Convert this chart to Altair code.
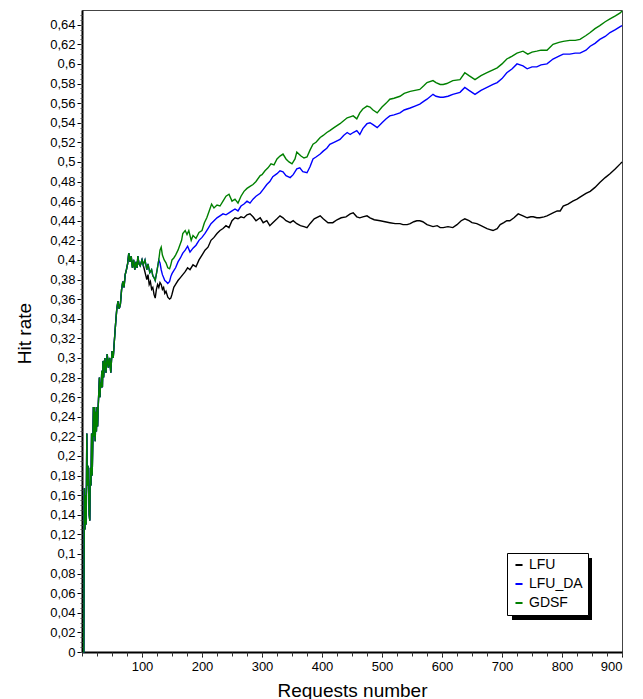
import altair as alt
import pandas as pd

# ---------------- data ----------------
# initial segment shared by all three policies (curves coincide here)
EARLY_X = [2, 3, 4, 5, 6, 7, 8, 9, 10, 12, 13, 14, 15, 16, 17, 18, 19, 20, 21, 22, 23, 24,
           25, 26, 27, 28, 29, 30, 31, 32, 33, 34, 35, 36, 38, 40, 42, 44, 46, 48, 50, 52,
           54, 56, 58, 60, 62, 64, 66, 68, 70, 72, 74, 76, 78, 80, 82, 84, 86, 88, 90, 92,
           93, 95, 97, 100]
EARLY_Y = [0.0, 0.0, 0.167, 0.125, 0.16, 0.13, 0.223, 0.17, 0.19, 0.14, 0.134, 0.188, 0.17,
           0.223, 0.18, 0.215, 0.25, 0.22, 0.25, 0.215, 0.245, 0.225, 0.25, 0.23, 0.25, 0.265,
           0.28, 0.26, 0.275, 0.27, 0.287, 0.27, 0.297, 0.28, 0.3, 0.285, 0.304, 0.29, 0.3,
           0.285, 0.307, 0.3, 0.318, 0.335, 0.35, 0.358, 0.35, 0.355, 0.37, 0.378, 0.372,
           0.385, 0.39, 0.396, 0.407, 0.398, 0.404, 0.392, 0.4, 0.39, 0.398, 0.392, 0.404,
           0.396, 0.394, 0.4]

# segment shared by GDSF and LFU_DA
MID_X = [102, 105, 108, 110, 113, 116, 118, 120, 122, 125, 128]
MID_Y = [0.395, 0.40, 0.39, 0.396, 0.387, 0.39, 0.384, 0.382, 0.379, 0.389, 0.40]

GDSF_X = [130, 132, 134, 137, 140, 143, 146, 148, 150, 153, 156, 160, 163, 166, 168, 172, 175,
          178, 182, 185, 190, 195, 200, 204, 208, 212, 216, 220, 225, 230, 235, 240, 245, 250,
          255, 260, 265, 270, 275, 280, 285, 290, 297, 300, 305, 310, 315, 320, 325, 330, 335,
          340, 345, 350, 355, 358, 365, 370, 375, 380, 385, 390, 397, 402, 408, 413, 420, 430,
          436, 442, 447, 452, 458, 463, 468, 475, 480, 485, 492, 500, 507, 513, 520, 530, 537,
          547, 555, 563, 570, 575, 585, 590, 597, 602, 608, 618, 630, 638, 645, 655, 665, 675,
          685, 692, 700, 708, 717, 725, 735, 743, 750, 758, 765, 775, 785, 795, 802, 813, 822,
          830, 840, 847, 855, 863, 872, 880, 889, 897, 900]
GDSF_Y = [0.41, 0.413, 0.405, 0.40, 0.397, 0.392, 0.391, 0.395, 0.40, 0.402, 0.405, 0.41, 0.415,
          0.42, 0.427, 0.43, 0.426, 0.43, 0.42, 0.425, 0.422, 0.428, 0.43, 0.438, 0.443, 0.45,
          0.457, 0.453, 0.456, 0.455, 0.46, 0.465, 0.467, 0.46, 0.462, 0.458, 0.465, 0.47, 0.473,
          0.475, 0.477, 0.48, 0.486, 0.487, 0.491, 0.494, 0.498, 0.497, 0.503, 0.506, 0.508,
          0.503, 0.5, 0.498, 0.503, 0.51, 0.506, 0.504, 0.505, 0.512, 0.518, 0.52, 0.525, 0.527,
          0.53, 0.532, 0.535, 0.539, 0.542, 0.545, 0.546, 0.547, 0.544, 0.55, 0.554, 0.557,
          0.556, 0.553, 0.55, 0.556, 0.56, 0.564, 0.565, 0.567, 0.57, 0.572, 0.573, 0.574, 0.578,
          0.581, 0.583, 0.581, 0.579, 0.579, 0.58, 0.583, 0.584, 0.591, 0.588, 0.584, 0.588,
          0.591, 0.594, 0.596, 0.6, 0.605, 0.608, 0.611, 0.613, 0.61, 0.612, 0.613, 0.614, 0.614,
          0.62, 0.622, 0.623, 0.624, 0.624, 0.625, 0.629, 0.632, 0.636, 0.639, 0.643, 0.646,
          0.649, 0.652, 0.654]

LFUDA_X = [130, 132, 134, 136, 138, 140, 143, 146, 148, 150, 153, 156, 160, 164, 168, 172, 176,
           180, 185, 190, 195, 200, 205, 210, 215, 220, 225, 230, 235, 240, 245, 250, 255, 260,
           265, 270, 275, 280, 285, 290, 297, 302, 308, 313, 318, 325, 330, 335, 340, 347, 352,
           358, 363, 368, 375, 380, 385, 390, 397, 402, 408, 413, 420, 430, 436, 442, 447, 452,
           458, 463, 468, 475, 480, 485, 492, 500, 507, 513, 520, 530, 537, 547, 555, 563, 570,
           575, 585, 590, 597, 602, 610, 618, 630, 638, 645, 655, 665, 675, 685, 692, 700, 708,
           717, 725, 735, 742, 750, 758, 765, 775, 785, 795, 802, 813, 822, 830, 840, 847, 855,
           863, 872, 880, 889, 897, 900]
LFUDA_Y = [0.397, 0.39, 0.385, 0.382, 0.379, 0.378, 0.376, 0.378, 0.383, 0.386, 0.389, 0.392,
           0.398, 0.402, 0.407, 0.41, 0.414, 0.408, 0.412, 0.415, 0.42, 0.423, 0.427, 0.432,
           0.437, 0.44, 0.443, 0.445, 0.447, 0.446, 0.448, 0.45, 0.452, 0.45, 0.455, 0.457, 0.46,
           0.458, 0.462, 0.465, 0.468, 0.472, 0.477, 0.48, 0.485, 0.488, 0.491, 0.49, 0.486,
           0.484, 0.487, 0.493, 0.494, 0.49, 0.489, 0.495, 0.503, 0.505, 0.508, 0.511, 0.514,
           0.518, 0.52, 0.523, 0.527, 0.53, 0.528, 0.53, 0.532, 0.528, 0.534, 0.539, 0.54, 0.538,
           0.535, 0.54, 0.544, 0.547, 0.548, 0.55, 0.553, 0.555, 0.557, 0.559, 0.562, 0.564,
           0.569, 0.567, 0.566, 0.566, 0.567, 0.569, 0.571, 0.576, 0.573, 0.569, 0.573, 0.576,
           0.579, 0.581, 0.585, 0.591, 0.595, 0.6, 0.598, 0.595, 0.597, 0.597, 0.599, 0.6,
           0.605, 0.608, 0.61, 0.61, 0.611, 0.611, 0.614, 0.618, 0.621, 0.625, 0.628, 0.632,
           0.635, 0.638, 0.639]

LFU_X = [102, 104, 106, 108, 110, 112, 114, 116, 118, 120, 122, 124, 126, 128, 130, 132, 134,
         136, 138, 140, 143, 146, 148, 150, 153, 156, 160, 164, 168, 172, 176, 180, 185, 190,
         195, 200, 205, 210, 215, 220, 225, 230, 235, 240, 245, 250, 255, 260, 265, 270, 275,
         280, 285, 290, 297, 302, 308, 313, 318, 325, 330, 335, 340, 347, 352, 358, 364, 370,
         375, 380, 387, 397, 402, 410, 418, 425, 432, 440, 447, 452, 458, 463, 468, 475, 480,
         487, 497, 505, 513, 522, 530, 535, 542, 547, 553, 558, 563, 568, 575, 585, 592, 597,
         602, 610, 618, 625, 632, 638, 645, 650, 658, 665, 675, 680, 685, 692, 697, 703, 708,
         713, 720, 727, 735, 742, 748, 752, 758, 763, 770, 775, 785, 792, 797, 802, 810, 818,
         825, 830, 840, 847, 855, 863, 872, 880, 889, 897, 900]
LFU_Y = [0.395, 0.39, 0.385, 0.38, 0.385, 0.375, 0.378, 0.37, 0.372, 0.365, 0.361, 0.37, 0.375,
         0.372, 0.377, 0.375, 0.37, 0.372, 0.366, 0.368, 0.362, 0.36, 0.361, 0.365, 0.372,
         0.375, 0.379, 0.382, 0.385, 0.388, 0.392, 0.39, 0.395, 0.393, 0.4, 0.405, 0.41, 0.413,
         0.42, 0.423, 0.427, 0.43, 0.432, 0.435, 0.433, 0.44, 0.443, 0.442, 0.444, 0.443,
         0.446, 0.447, 0.444, 0.44, 0.443, 0.438, 0.44, 0.435, 0.438, 0.442, 0.445, 0.443,
         0.44, 0.438, 0.44, 0.437, 0.435, 0.434, 0.433, 0.437, 0.442, 0.445, 0.442, 0.438,
         0.438, 0.441, 0.443, 0.444, 0.447, 0.448, 0.444, 0.443, 0.444, 0.445, 0.443, 0.441,
         0.44, 0.439, 0.438, 0.437, 0.437, 0.436, 0.436, 0.437, 0.439, 0.44, 0.44, 0.439,
         0.436, 0.434, 0.435, 0.433, 0.433, 0.434, 0.433, 0.436, 0.44, 0.442, 0.44, 0.438,
         0.437, 0.435, 0.432, 0.431, 0.43, 0.432, 0.436, 0.438, 0.44, 0.44, 0.443, 0.447,
         0.445, 0.443, 0.444, 0.444, 0.443, 0.443, 0.444, 0.445, 0.448, 0.45, 0.45, 0.455,
         0.457, 0.46, 0.462, 0.464, 0.468, 0.47, 0.474, 0.479, 0.484, 0.488, 0.493, 0.498, 0.5]

SERIES = ["LFU", "LFU_DA", "GDSF"]
COLORS = ["#000000", "#0000ff", "#008000"]

Y_TICKS = [0.0, 0.02, 0.04, 0.06, 0.08, 0.1, 0.12, 0.14, 0.16, 0.18, 0.2, 0.22, 0.24, 0.26,
           0.28, 0.3, 0.32, 0.34, 0.36, 0.38, 0.4, 0.42, 0.44, 0.46, 0.48, 0.5, 0.52, 0.54,
           0.56, 0.58, 0.6, 0.62, 0.64]
X_TICKS = [100, 200, 300, 400, 500, 600, 700, 800, 900]
Y_MINOR = [round(i * 0.005, 3) for i in range(0, 131)]
X_MINOR = [i * 25 for i in range(0, 37)]

# ---------------- build table ----------------
def frame(name, xs, ys):
    return pd.DataFrame({"Requests": xs, "Hit": ys, "Policy": name})

df = pd.concat([
    frame("LFU", EARLY_X + LFU_X, EARLY_Y + LFU_Y),
    frame("LFU_DA", EARLY_X + MID_X + LFUDA_X, EARLY_Y + MID_Y + LFUDA_Y),
    frame("GDSF", EARLY_X + MID_X + GDSF_X, EARLY_Y + MID_Y + GDSF_Y),
], ignore_index=True)

FONT = "Liberation Sans"
xscale = alt.Scale(domain=[0, 900], nice=False, zero=False)
yscale = alt.Scale(domain=[0, 0.655], nice=False)

legend = alt.Legend(
    title=None, orient="none", legendX=425, legendY=543,
    fillColor="white", strokeColor="black", padding=5, cornerRadius=0,
    symbolType="stroke", symbolStrokeWidth=2, symbolSize=50,
    labelFont=FONT, labelFontSize=14, labelColor="black", rowPadding=5, labelOffset=3,
)
color = alt.Color("Policy:N", scale=alt.Scale(domain=SERIES, range=COLORS), legend=legend)

x_main = alt.Axis(values=X_TICKS, tickSize=5, labelFont=FONT, labelFontSize=13,
                  labelColor="black", labelPadding=3, domainColor="black", domainWidth=2,
                  tickColor="black", grid=False, title="Requests number", titleFont=FONT,
                  titleFontSize=19, titleFontWeight="normal", titleColor="black",
                  titleY=44, titleBaseline="alphabetic", orient="bottom")
y_main = alt.Axis(values=Y_TICKS, tickSize=5, labelFont=FONT, labelFontSize=13,
                  labelColor="black", labelPadding=2, domainColor="black", domainWidth=2,
                  tickColor="black", grid=False,
                  labelExpr="replace(format(datum.value, '.2~f'), '.', ',')",
                  title="Hit rate", titleFont=FONT, titleFontSize=19, titleFontWeight="normal",
                  titleColor="black", titleX=-52, titleY=323, titleBaseline="alphabetic",
                  orient="left")
x_minor = alt.Axis(values=X_MINOR, tickSize=4, labels=False, domain=False, grid=False,
                   tickColor="#333", title=None, orient="bottom")
y_minor = alt.Axis(values=Y_MINOR, tickSize=2, labels=False, domain=False, grid=False,
                   tickColor="#555", title=None, orient="left")

base = alt.Chart(df)

# drop shadow behind the legend box
shadow = alt.Chart(alt.Data(values=[{}])).mark_rect(color="black").encode(
    x=alt.value(430), x2=alt.value(510), y=alt.value(548), y2=alt.value(610)
)

l_lfu = base.transform_filter(alt.datum.Policy == "LFU").mark_line(strokeWidth=1.4).encode(
    x=alt.X("Requests:Q", scale=xscale, axis=x_main),
    y=alt.Y("Hit:Q", scale=yscale, axis=y_main),
    color=color,
)
l_da = base.transform_filter(alt.datum.Policy == "LFU_DA").mark_line(strokeWidth=1.4).encode(
    x=alt.X("Requests:Q", scale=xscale, axis=x_minor),
    y=alt.Y("Hit:Q", scale=yscale, axis=y_minor),
    color=color,
)
l_gd = base.transform_filter(alt.datum.Policy == "GDSF").mark_line(strokeWidth=1.4).encode(
    x=alt.X("Requests:Q", scale=xscale, axis=None),
    y=alt.Y("Hit:Q", scale=yscale, axis=None),
    color=color,
)

chart = alt.layer(l_lfu, l_da, l_gd, shadow).resolve_axis(
    x="independent", y="independent"
).properties(
    width=540, height=642,
    autosize=alt.AutoSizeParams(type="none"),
    padding={"left": 82, "top": 10, "right": 21, "bottom": 47},
    background="white",
).configure_view(stroke="#444", strokeWidth=1)

chart.save("out.html", embed_options={"renderer": "svg", "actions": False})
